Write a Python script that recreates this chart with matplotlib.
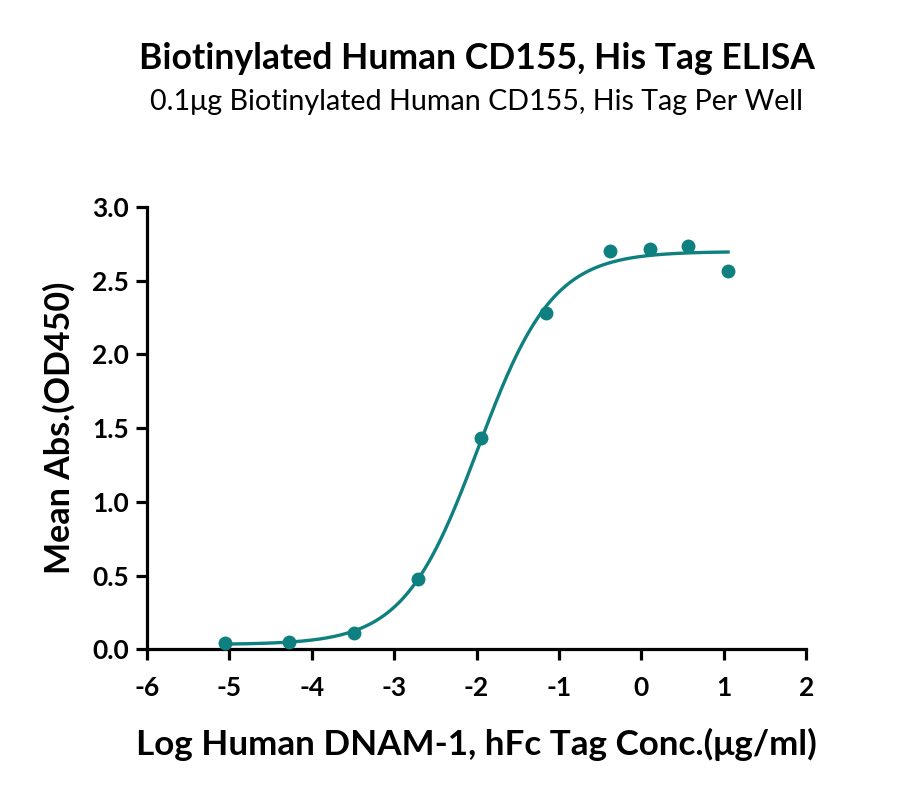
import numpy as np
import matplotlib
matplotlib.use("Agg")
import matplotlib.pyplot as plt

# Data (log10 concentration, mean absorbance)
log_conc = [-5.05, -4.27, -3.49, -2.71, -1.94, -1.16, -0.38, 0.10, 0.57, 1.05]
mean_abs = [0.045, 0.052, 0.113, 0.475, 1.432, 2.278, 2.700, 2.715, 2.738, 2.563]
x_ticks = [-6, -5, -4, -3, -2, -1, 0, 1, 2]
y_ticks = [0.0, 0.5, 1.0, 1.5, 2.0, 2.5, 3.0]

title = "Biotinylated Human CD155, His Tag ELISA"
subtitle = "0.1\u03bcg Biotinylated Human CD155, His Tag Per Well"
xlabel = "Log Human DNAM-1, hFc Tag Conc.(\u03bcg/ml)"
ylabel = "Mean Abs.(OD450)"

color = "#0f8080"

x = np.array(log_conc)
y = np.array(mean_abs)

# 4PL fit: grid over logEC50 and Hill slope, linear least squares for bottom/top
best = None
for ec in np.linspace(-3.0, -1.0, 201):
    for h in np.linspace(0.5, 2.0, 151):
        f = 1.0 / (1.0 + 10 ** ((ec - x) * h))
        A = np.vstack([1 - f, f]).T
        coef, res, *_ = np.linalg.lstsq(A, y, rcond=None)
        r = np.sum((A @ coef - y) ** 2)
        if best is None or r < best[0]:
            best = (r, ec, h, coef[0], coef[1])
_, ec50, hill, bottom, top = best
xs = np.linspace(x.min(), x.max(), 400)
ys = bottom + (top - bottom) / (1.0 + 10 ** ((ec50 - xs) * hill))

plt.rcParams['font.family'] = ['Lato', 'DejaVu Sans']

fig = plt.figure(figsize=(9, 7.9), dpi=100)
ax = fig.add_axes([0.163, 0.178, 0.733, 0.560])

ax.plot(xs, ys, color=color, lw=2.4, zorder=2)
ax.plot(x, y, 'o', color=color, ms=9, zorder=3, clip_on=False)

ax.set_xlim(-6, 2)
ax.set_ylim(0, 3.0)
ax.set_xticks(x_ticks)
ax.set_xticklabels([str(t) for t in x_ticks])
ax.set_yticks(y_ticks)
ax.set_yticklabels([f"{t:.1f}" for t in y_ticks])

for s in ['top', 'right']:
    ax.spines[s].set_visible(False)
for s in ['left', 'bottom']:
    ax.spines[s].set_linewidth(2.3)
ax.tick_params(axis='y', width=2.3, length=8, labelsize=19, pad=5)
ax.tick_params(axis='x', width=2.3, length=8, labelsize=19, pad=11)
for lab in ax.get_xticklabels() + ax.get_yticklabels():
    lab.set_fontweight('bold')

ax.set_xlabel(xlabel, fontsize=25.2, fontweight='bold', labelpad=20)
ax.set_ylabel(ylabel, fontsize=24.5, fontweight='bold', labelpad=12)

fig.text(0.53, 0.926, title, ha='center', va='center', fontsize=25.6, fontweight='bold')
fig.text(0.53, 0.871, subtitle, ha='center', va='center', fontsize=20.6)

fig.savefig("out.png", dpi=100)
